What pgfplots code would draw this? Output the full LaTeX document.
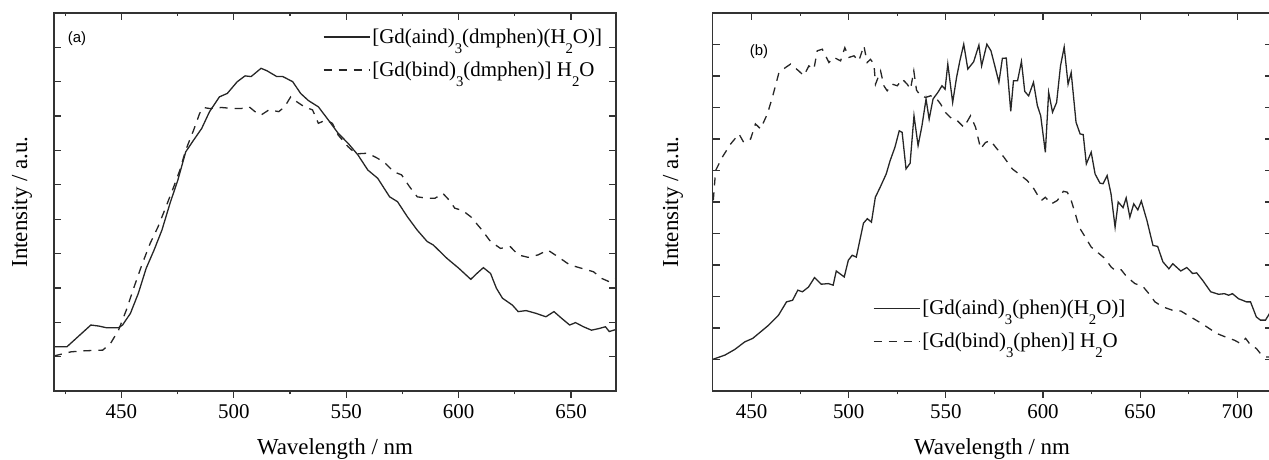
\documentclass[border=0pt]{standalone}
\usepackage{fontspec}
\setmainfont{Liberation Serif}
\newfontfamily\arialfont{Liberation Sans}
\usepackage{pgfplots}
\pgfplotsset{compat=1.18}

% Origin-style subscript: small and dropped below the baseline
\newcommand\sub[1]{\raisebox{-5bp}{\fontsize{7.4}{8}\selectfont #1}}

\pgfplotsset{
  panel/.style={
    scale only axis, height=189bp,
    axis line style={line width=0.75bp, black!80},
    tick style={line width=0.6bp, black!80},
    major tick length=3.4bp, minor tick length=1.7bp,
  },
  mainax/.style={
    panel,
    tick align=outside,
    xtick pos=left, ytick=\empty,
    ticklabel style={font=\fontsize{10.5}{12}\selectfont},
    /pgf/number format/assume math mode=true,
    xticklabel style={yshift=0bp},
    label style={font=\fontsize{11.5}{13}\selectfont},
    xlabel={Wavelength / nm}, ylabel={Intensity / a.u.},
    xlabel style={at={(axis description cs:0.5,-0.169)}, anchor=base},
    legend cell align=left,
    legend style={draw=none, fill=none, inner sep=0pt,
      font=\fontsize{10.5}{12}\selectfont, row sep=5bp, column sep=1bp,
      nodes={inner sep=0pt, text height=9bp, text depth=2.5bp}},
    legend image code/.code={\draw[##1] (0bp,0bp) -- (23bp,0bp);},
  },
  overax/.style={
    panel,
    tick align=inside,
    xtick pos=right, xticklabels={},
    ytick pos=both, yticklabels={},
  },
  solidline/.style={line width=0.65bp, black!85},
  dashline/.style={line width=0.65bp, black!85, dash pattern=on 4bp off 3.5bp},
}

\begin{document}
\begin{tikzpicture}
\useasboundingbox (0,0) rectangle (634.5bp,230bp);

% ---------- panel (a) ----------
\begin{axis}[mainax,
    at={(27bp,34.5bp)}, anchor=south west, width=281bp,
    xmin=420, xmax=670, ymin=0, ymax=11,
    xtick={450,500,...,650}, minor xtick={425,475,...,675},
    ylabel style={at={(axis description cs:-0.057,0.5)}, anchor=center},
    legend style={at={(axis description cs:0.478,0.968)}, anchor=north west},
]
\addplot[solidline] coordinates {
(420,1.29) (425.8,1.29) (436.4,1.92) (439.9,1.89) (443.4,1.84) (448.7,1.84)
(450.5,1.92) (454,2.26) (457.5,2.84) (461,3.57) (464.5,4.10) (468,4.68)
(471.6,5.46) (475.1,6.14) (478.6,6.96) (482.1,7.30) (485.7,7.64) (489.2,8.13)
(493.6,8.56) (497.1,8.66) (501.5,9.00) (505,9.17) (507.7,9.15) (512.1,9.39)
(514.7,9.32) (519.1,9.15) (521.8,9.15) (526.2,9.00) (529.7,8.66) (533.2,8.45)
(537.6,8.27) (542,7.89) (546.4,7.50) (550.8,7.21) (555.2,6.87) (559.6,6.43)
(564,6.19) (569.3,5.65) (572.8,5.51) (577.2,5.07) (581.6,4.68) (586,4.35)
(588.7,4.25) (594.8,3.86) (600.1,3.57) (605.4,3.25) (608.1,3.42) (611,3.59)
(614.2,3.42) (616.8,2.99) (619.5,2.70) (623.9,2.50) (626.5,2.31) (630,2.34)
(634.4,2.26) (638.8,2.16) (642.4,2.31) (645.9,2.11) (649.4,1.92) (652,1.99)
(655.5,1.87) (659.1,1.77) (662.6,1.82) (665.3,1.87) (667,1.73) (670,1.79)
};
\addlegendentry{[Gd(aind)\sub{3}(dmphen)(H\sub{2}O)]}
\addplot[dashline] coordinates {
(420,1.02) (427.6,1.14) (433.7,1.17) (441.7,1.19) (445.2,1.39) (448.7,1.77)
(452.2,2.36) (455.7,3.04) (459.3,3.71) (462.8,4.30) (466.3,4.78) (469.8,5.36)
(473.3,5.95) (476,6.43) (478.6,7.01) (482.1,7.59) (484.8,8.08) (486.5,8.25)
(489.2,8.22) (494.5,8.25) (499.8,8.22) (503.3,8.22) (506.8,8.27) (509.4,8.13)
(512.1,8.03) (515.6,8.18) (520,8.13) (522.6,8.27) (525.3,8.56) (527.9,8.42)
(531.4,8.27) (535,8.18) (537.6,7.79) (541.1,7.89) (543.8,7.79) (546.4,7.45)
(550.8,7.11) (554.3,6.90) (559.6,6.92) (564,6.77) (567.5,6.62) (571.1,6.38)
(574.6,6.29) (578.1,5.95) (581.6,5.65) (586,5.61) (589.5,5.61) (593,5.75)
(595.7,5.56) (598.3,5.32) (601.8,5.25) (605.4,5.07) (609.8,4.73) (614.2,4.35)
(618.6,4.15) (623,4.20) (626.5,3.96) (630.9,3.89) (635.3,3.96) (639.7,4.10)
(644.1,3.91) (649.4,3.67) (654.7,3.57) (660,3.47) (663.5,3.28) (667,3.18)
(670,3.28)
};
\addlegendentry{[Gd(bind)\sub{3}(dmphen)] H\sub{2}O}
\node[font=\arialfont\fontsize{7.5}{9}\selectfont] at (axis description cs:0.041,0.933) {(a)};
\end{axis}
\begin{axis}[overax,
    at={(27bp,34.5bp)}, anchor=south west, width=281bp,
    xmin=420, xmax=670, ymin=0, ymax=11,
    xtick={450,500,...,650}, minor xtick={425,475,...,675},
    ytick={1,2,...,10},
]
\end{axis}

% ---------- panel (b) ----------
\begin{axis}[mainax,
    at={(356.35bp,34.5bp)}, anchor=south west, width=279.3bp,
    xmin=430, xmax=717.5, ymin=0, ymax=12,
    xtick={450,500,...,700}, minor xtick={475,525,...,675},
    ylabel style={at={(axis description cs:-0.071,0.5)}, anchor=center},
    legend style={at={(axis description cs:0.2864,0.250)}, anchor=north west},
]
\addplot[solidline] coordinates {
(430.3,1.01) (436.3,1.14) (441.4,1.32) (446.5,1.56) (450.6,1.67) (454.7,1.88)
(458.8,2.09) (463.9,2.41) (468,2.83) (471.1,2.88) (473.8,3.20) (476.2,3.15)
(479.3,3.30) (482.4,3.60) (485.9,3.39) (489.5,3.41) (492,3.36) (493.6,3.81)
(497.7,3.62) (499.8,4.15) (501.8,4.31) (503.9,4.25) (507.6,5.33) (509.6,5.47)
(511.7,5.36) (513.7,6.15) (516.2,6.47) (519.3,6.89) (521.3,7.31) (523.8,7.74)
(526,8.26) (527.5,8.21) (529.5,7.05) (531.6,7.23) (533.6,8.74) (535.7,7.79)
(537.7,8.42) (539.8,9.27) (541.4,8.63) (543.4,9.27) (545.9,9.48) (548,9.69)
(549.6,9.58) (551,10.38) (553.5,9.16) (555.5,9.95) (557.2,10.48) (559.2,11.01)
(561.3,10.22) (564.3,10.45) (567,10.98) (568.4,10.32) (571.1,11.01) (573.2,10.80)
(575.2,10.32) (577.3,9.80) (579.1,10.56) (581.1,10.57) (583.4,8.88) (584.8,9.85)
(586.9,9.85) (588.9,10.46) (590.6,9.51) (592.6,9.37) (595.1,9.80) (597.1,9.06)
(598.8,8.74) (601.2,7.58) (602.9,9.48) (604.9,8.85) (607,9.16) (609,10.32)
(610.9,10.92) (612.9,9.74) (614.5,10.11) (617,8.53) (619.1,8.16) (620.7,8.14)
(622.3,7.21) (624.8,7.58) (626.8,6.89) (629.3,6.60) (630.9,6.58) (633,6.84)
(635,6.26) (637.1,5.20) (638.7,6.00) (641.2,5.82) (642.8,6.13) (644.7,5.52)
(646.7,5.94) (648.8,5.75) (650.6,6.03) (653.5,5.41) (656.6,4.62) (659,4.59)
(661.7,4.10) (664.8,3.88) (666.8,4.04) (670.9,3.81) (674,3.92) (677,3.73)
(679.1,3.75) (682.2,3.51) (686.3,3.15) (690.4,3.07) (693.4,3.09) (695.5,3.04)
(697.5,3.09) (700.6,2.93) (704.7,2.83) (706.8,2.83) (709.8,2.35) (711.9,2.25)
(714.5,2.25) (716.6,2.46)
};
\addlegendentry{[Gd(aind)\sub{3}(phen)(H\sub{2}O)]}
\addplot[dashline] coordinates {
(430.3,6.05) (431.5,7.00) (434.9,7.42) (439.2,7.84) (443.5,8.16) (446,7.89)
(449.5,8.00) (452,8.48) (454.6,8.32) (458.1,8.79) (460.7,9.32) (464.1,10.11)
(467.5,10.27) (470.1,10.38) (474.3,10.16) (476.9,10.01) (479.5,10.32) (482.1,10.22)
(483.8,10.80) (486.4,10.85) (489.8,10.43) (492.4,10.59) (495.8,10.48) (498,10.90)
(500.1,10.59) (502.7,10.64) (505.2,10.48) (507.8,10.96) (509.5,10.43) (511.2,10.53)
(513,10.38) (513.8,9.74) (516.4,10.16) (518.1,9.69) (519.8,9.53) (522.4,9.74)
(525,9.69) (527.6,9.90) (530.1,9.74) (531.8,9.58) (533.5,10.16) (534.9,9.55)
(537,9.37) (539.6,9.32) (542.1,9.37) (544.7,9.32) (547.3,9.11) (549.8,8.84)
(553.3,8.63) (555.9,8.58) (559.3,8.37) (562.7,8.74) (565.3,8.37) (567.9,7.69)
(570.4,7.89) (573,7.95) (575.6,7.74) (579.9,7.42) (584.2,7.05) (587.6,6.89)
(591.9,6.68) (595.3,6.42) (597.9,6.15) (599.2,6.05) (601.2,6.15) (604.3,5.94)
(607.4,6.05) (610.5,6.34) (612.5,6.31) (614.5,6.05) (616.6,5.63) (618.6,5.20)
(621.7,4.89) (624.8,4.57) (628.9,4.36) (632,4.20) (635,3.94) (637.1,3.83)
(640.2,3.85) (643.2,3.62) (647.3,3.41) (651.4,3.32) (654.5,3.09) (657.6,2.83)
(661.7,2.67) (666.8,2.56) (670.9,2.54) (676,2.35) (680.1,2.20) (684.2,2.04)
(689.3,1.83) (694.5,1.70) (698.6,1.61) (701.6,1.51) (704.3,1.67) (706.8,1.46)
(709.8,1.35) (711.9,1.19) (714.5,1.08) (716.6,1.08)
};
\addlegendentry{[Gd(bind)\sub{3}(phen)] H\sub{2}O}
\node[font=\arialfont\fontsize{7.5}{9}\selectfont] at (axis description cs:0.083,0.898) {(b)};
\end{axis}
\begin{axis}[overax,
    at={(356.35bp,34.5bp)}, anchor=south west, width=279.3bp,
    xmin=430, xmax=717.5, ymin=0, ymax=12,
    xtick={450,500,...,700}, minor xtick={475,525,...,675},
    ytick={1,2,...,11},
]
\end{axis}
\end{tikzpicture}
\end{document}
